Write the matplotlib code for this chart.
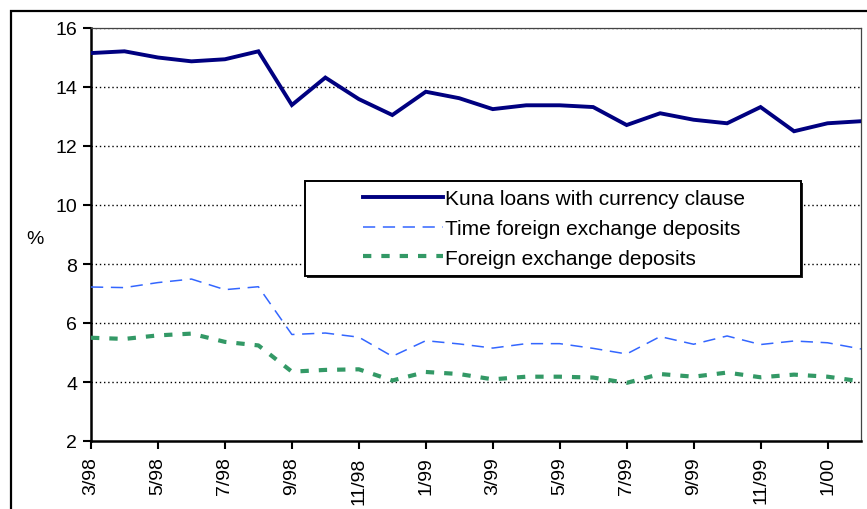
import matplotlib
matplotlib.use("Agg")
import matplotlib.pyplot as plt
from matplotlib.patches import Rectangle

plt.rcParams['font.family'] = ['Liberation Sans', 'DejaVu Sans']

months = ["3/98", "4/98", "5/98", "6/98", "7/98", "8/98", "9/98", "10/98", "11/98", "12/98",
          "1/99", "2/99", "3/99", "4/99", "5/99", "6/99", "7/99", "8/99", "9/99", "10/99",
          "11/99", "12/99", "1/00", "2/00"]
kuna_loans = [15.15, 15.21, 15.00, 14.87, 14.94, 15.21, 13.39, 14.32, 13.59, 13.05,
              13.84, 13.62, 13.25, 13.38, 13.38, 13.32, 12.71, 13.11, 12.89, 12.77,
              13.32, 12.50, 12.77, 12.84]
time_fx = [7.22, 7.20, 7.37, 7.49, 7.13, 7.23, 5.61, 5.66, 5.52, 4.87,
           5.40, 5.29, 5.15, 5.30, 5.30, 5.14, 4.95, 5.54, 5.28, 5.56,
           5.27, 5.39, 5.33, 5.12]
fx_dep = [5.50, 5.46, 5.58, 5.64, 5.36, 5.24, 4.35, 4.41, 4.43, 4.05,
          4.34, 4.27, 4.09, 4.18, 4.18, 4.15, 3.97, 4.27, 4.18, 4.32,
          4.16, 4.25, 4.18, 4.02]
y_ticks = [2, 4, 6, 8, 10, 12, 14, 16]

W, H = 867, 510
fig = plt.figure(figsize=(W / 100, H / 100), dpi=100)
ax = fig.add_axes([91/W, 1 - 442/H, (861 - 91)/W, (442 - 29)/H])

x = list(range(len(months)))
ax.plot(x, kuna_loans, color="#000080", lw=2.8, solid_joinstyle="miter",
        label="Kuna loans with currency clause", zorder=4)
ax.plot(x, time_fx, color="#3366FF", lw=1.1, dashes=(8, 5),
        label="Time foreign exchange deposits", zorder=3)
ax.plot(x, fx_dep, color="#339966", lw=3.0, dashes=(2.0, 2.4),
        label="Foreign exchange deposits", zorder=3)

ax.set_xlim(0, len(months) - 1)
ax.set_ylim(2, 16)
ax.set_yticks(y_ticks)
ax.set_xticks(x[::2])
ax.set_xticklabels(months[::2], rotation=90, fontsize=14)
ax.tick_params(axis='y', labelsize=14, direction='out', length=6, width=1.5, pad=4)
ax.tick_params(axis='x', direction='out', length=6, width=1.5, pad=5)

for v in y_ticks[1:]:
    ax.axhline(v, color="black", lw=1.0, ls=(0, (1, 2)), zorder=1)

for s in ['left', 'bottom']:
    ax.spines[s].set_linewidth(1.8)
    ax.spines[s].set_color("black")
for s in ['top', 'right']:
    ax.spines[s].set_linewidth(0.9)
    ax.spines[s].set_color("#444444")

ax.set_ylabel("%", rotation=0, fontsize=14, va='center', ha='center')
ax.yaxis.set_label_coords(-0.073, 0.49)

# legend frame (drawn separately to reproduce the wide left padding)
bx0, by0, bx1, by1 = 305, 182, 801, 277
shadow = Rectangle(((bx0 + 1.5) / W, 1 - (by1 + 1.5) / H), (bx1 - bx0) / W, (by1 - by0) / H,
                   transform=fig.transFigure, facecolor="#222222", edgecolor="none", zorder=6)
frame = Rectangle((bx0 / W, 1 - by1 / H), (bx1 - bx0) / W, (by1 - by0) / H,
                  transform=fig.transFigure, facecolor="white", edgecolor="black",
                  lw=1.4, zorder=6.1)
ax.add_patch(shadow)
ax.add_patch(frame)

leg = ax.legend(loc='upper left', bbox_to_anchor=(363 / W, 1 - 190 / H),
                bbox_transform=fig.transFigure,
                fontsize=15, frameon=False, handlelength=3.85,
                handletextpad=0.1, borderpad=0.0, labelspacing=0.52,
                borderaxespad=0)
leg.set_zorder(7)

fig.patches.append(Rectangle((11/W, -0.1), 1.1, 1 - 12/H + 0.1,
                             transform=fig.transFigure, fill=False,
                             edgecolor="black", lw=1.6))

fig.savefig("out.png", dpi=100)
